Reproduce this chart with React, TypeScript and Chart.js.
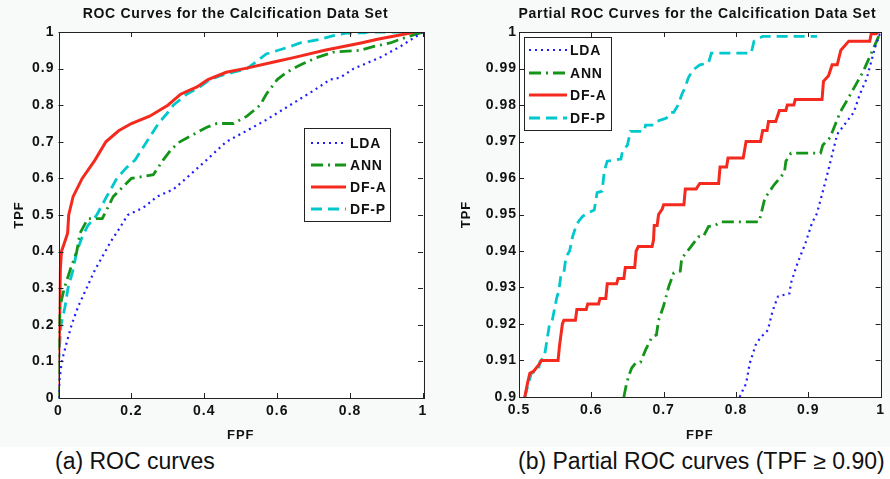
import React, { useEffect, useRef } from 'react';
import { Chart, registerables } from 'chart.js';

Chart.register(...registerables);

type Pt = [number, number];

const FONT = '"Liberation Sans", Arial, Helvetica, sans-serif';

// ---- series meta ----
const seriesNames = ['LDA', 'ANN', 'DF-A', 'DF-P'];
const seriesColors = ['#1e1eff', '#149418', '#f42a1e', '#00c8cc'];

// ---- (a) full ROC curves: [FPF, TPF] ----
const fullLDA: Pt[] = [
  [0, 0], [0.003, 0.05], [0.009, 0.1], [0.022, 0.15], [0.036, 0.2], [0.054, 0.25], [0.077, 0.3],
  [0.1, 0.35], [0.128, 0.4], [0.145, 0.43], [0.165, 0.46], [0.19, 0.5], [0.233, 0.52], [0.27, 0.55],
  [0.315, 0.57], [0.35, 0.6], [0.406, 0.65], [0.46, 0.7], [0.516, 0.73], [0.57, 0.76], [0.635, 0.8],
  [0.7, 0.84], [0.745, 0.87], [0.772, 0.875], [0.81, 0.9], [0.882, 0.93], [0.937, 0.96], [1, 1],
];
const fullANN: Pt[] = [
  [0, 0], [0, 0.15], [0.004, 0.25], [0.016, 0.3], [0.032, 0.35], [0.05, 0.4], [0.059, 0.45],
  [0.075, 0.48], [0.082, 0.49], [0.12, 0.49], [0.15, 0.55], [0.17, 0.57], [0.2, 0.6], [0.26, 0.61],
  [0.287, 0.65], [0.31, 0.68], [0.333, 0.7], [0.37, 0.72], [0.407, 0.74], [0.435, 0.75], [0.48, 0.75],
  [0.517, 0.77], [0.553, 0.8], [0.57, 0.83], [0.6, 0.87], [0.626, 0.89], [0.663, 0.91], [0.708, 0.93],
  [0.754, 0.945], [0.827, 0.95], [0.863, 0.96], [0.91, 0.97], [0.937, 0.98], [1, 1],
];
const fullDFA: Pt[] = [
  [0, 0], [0, 0.1], [0.003, 0.2], [0.005, 0.35], [0.008, 0.4], [0.015, 0.42], [0.025, 0.45],
  [0.028, 0.5], [0.04, 0.55], [0.065, 0.6], [0.1, 0.65], [0.13, 0.7], [0.165, 0.73], [0.2, 0.75],
  [0.25, 0.77], [0.3, 0.8], [0.335, 0.83], [0.38, 0.85], [0.41, 0.87], [0.46, 0.89], [0.51, 0.9],
  [0.6, 0.92], [0.645, 0.93], [0.73, 0.95], [0.83, 0.97], [0.875, 0.98], [0.98, 1], [1, 1],
];
const fullDFP: Pt[] = [
  [0, 0], [0, 0.1], [0.007, 0.2], [0.018, 0.25], [0.026, 0.3], [0.04, 0.35], [0.05, 0.4],
  [0.065, 0.44], [0.08, 0.47], [0.105, 0.5], [0.132, 0.55], [0.16, 0.6], [0.187, 0.63], [0.21, 0.65],
  [0.242, 0.7], [0.274, 0.75], [0.3, 0.78], [0.315, 0.8], [0.352, 0.83], [0.388, 0.85], [0.415, 0.87],
  [0.443, 0.88], [0.48, 0.89], [0.517, 0.9], [0.544, 0.92], [0.57, 0.94], [0.635, 0.96], [0.663, 0.97],
  [0.718, 0.98], [0.754, 0.99], [0.79, 0.997], [0.84, 0.998], [0.85, 1], [1, 1],
];

// ---- (b) partial ROC curves (TPF >= 0.90): [FPF, TPF] ----
const partLDA: Pt[] = [
  [0.805, 0.9], [0.814, 0.9037], [0.819, 0.9092], [0.828, 0.9147], [0.835, 0.9165], [0.844, 0.9183],
  [0.851, 0.9238], [0.858, 0.9275], [0.874, 0.9284], [0.876, 0.9312], [0.885, 0.9366], [0.896, 0.9421],
  [0.905, 0.9476], [0.912, 0.9503], [0.925, 0.96], [0.94, 0.972], [0.963, 0.978], [0.971, 0.9828],
  [0.981, 0.9874], [0.992, 0.9956], [1, 1],
];
const partANN: Pt[] = [
  [0.645, 0.9], [0.648, 0.903], [0.652, 0.906], [0.656, 0.908], [0.661, 0.9092], [0.668, 0.9095],
  [0.675, 0.9129], [0.684, 0.9165], [0.69, 0.917], [0.693, 0.921], [0.7, 0.925], [0.707, 0.9302],
  [0.714, 0.934], [0.723, 0.9345], [0.725, 0.938], [0.737, 0.941], [0.748, 0.9439], [0.755, 0.944],
  [0.762, 0.9467], [0.771, 0.947], [0.78, 0.948], [0.832, 0.948], [0.834, 0.9496], [0.84, 0.9545],
  [0.853, 0.9582], [0.867, 0.9615], [0.869, 0.9646], [0.876, 0.9668], [0.917, 0.9668], [0.92, 0.969],
  [0.93, 0.971], [0.944, 0.978], [0.958, 0.9828], [0.976, 0.9892], [0.99, 0.9955], [1, 1],
];
const partDFA: Pt[] = [
  [0.508, 0.9], [0.512, 0.904], [0.515, 0.9065], [0.52, 0.907], [0.528, 0.909], [0.531, 0.91],
  [0.554, 0.91], [0.556, 0.914], [0.56, 0.92], [0.562, 0.921], [0.578, 0.921], [0.58, 0.924],
  [0.593, 0.924], [0.595, 0.9255], [0.61, 0.9255], [0.612, 0.927], [0.62, 0.927], [0.622, 0.931],
  [0.635, 0.931], [0.637, 0.9325], [0.645, 0.9325], [0.647, 0.9355], [0.66, 0.9355], [0.662, 0.94],
  [0.665, 0.9412], [0.684, 0.9412], [0.686, 0.943], [0.687, 0.947], [0.691, 0.947], [0.693, 0.95],
  [0.698, 0.9515], [0.7, 0.9527], [0.728, 0.9527], [0.73, 0.957], [0.745, 0.957], [0.75, 0.9585],
  [0.776, 0.9585], [0.778, 0.963], [0.787, 0.963], [0.789, 0.9655], [0.81, 0.9655], [0.814, 0.97],
  [0.834, 0.97], [0.837, 0.973], [0.843, 0.973], [0.845, 0.9755], [0.855, 0.9755], [0.86, 0.9785],
  [0.869, 0.9785], [0.871, 0.98], [0.88, 0.98], [0.882, 0.9815], [0.919, 0.9815], [0.921, 0.9865],
  [0.928, 0.988], [0.933, 0.991], [0.94, 0.991], [0.945, 0.995], [0.956, 0.9975], [0.985, 0.9975],
  [0.987, 0.9995], [0.994, 0.9995], [0.996, 1], [1, 1],
];
const partDFP: Pt[] = [
  [0.508, 0.9], [0.512, 0.903], [0.517, 0.9065], [0.527, 0.9075], [0.529, 0.9097], [0.535, 0.911],
  [0.538, 0.9147], [0.542, 0.9197], [0.546, 0.921], [0.552, 0.927], [0.555, 0.929], [0.558, 0.9334],
  [0.562, 0.934], [0.565, 0.9384], [0.57, 0.94], [0.574, 0.9439], [0.58, 0.9475], [0.584, 0.9485],
  [0.588, 0.9495], [0.596, 0.9505], [0.604, 0.9512], [0.608, 0.956], [0.615, 0.9564], [0.618, 0.962],
  [0.622, 0.9646], [0.641, 0.9652], [0.643, 0.9673], [0.65, 0.969], [0.654, 0.9728], [0.673, 0.9728],
  [0.675, 0.9745], [0.686, 0.9745], [0.69, 0.9755], [0.704, 0.9764], [0.71, 0.978], [0.714, 0.978],
  [0.72, 0.98], [0.725, 0.9828], [0.73, 0.985], [0.734, 0.9874], [0.74, 0.9895], [0.75, 0.991],
  [0.762, 0.9915], [0.766, 0.9942], [0.821, 0.9942], [0.825, 0.9975], [0.837, 0.9988], [0.912, 0.9988],
];

// ---- ticks ----
const fullXTicks = [0, 0.2, 0.4, 0.6, 0.8, 1];
const fullYTicks = [0, 0.1, 0.2, 0.3, 0.4, 0.5, 0.6, 0.7, 0.8, 0.9, 1];
const partXTicks = [0.5, 0.6, 0.7, 0.8, 0.9, 1];
const partYTicks = [0.9, 0.91, 0.92, 0.93, 0.94, 0.95, 0.96, 0.97, 0.98, 0.99, 1];

// ---- texts ----
const titleFull = 'ROC Curves for the Calcification Data Set';
const titlePart = 'Partial ROC Curves for the Calcification Data Set';
const xAxisLabel = 'FPF';
const yAxisLabel = 'TPF';
const captionFull = '(a) ROC curves';
const captionPart = '(b) Partial ROC curves (TPF \u2265 0.90)';

const dashes: number[][] = [[2, 4], [12, 5, 2, 5], [], [11, 6]];
const widths = [2.2, 2.8, 3, 2.8];

const fmt = (v: any) => String(+(+v).toFixed(2));

const matlabPlugin = {
  id: 'matlab',
  beforeUpdate(chart: any) {
    chart.ctx.letterSpacing = '1px';
  },
  beforeDraw(chart: any, _a: any, o: any) {
    const { ctx, chartArea: ca, width, height } = chart;
    ctx.letterSpacing = '1px';
    ctx.save();
    ctx.fillStyle = o.figureBg;
    ctx.fillRect(0, 0, width, height);
    ctx.fillStyle = '#ffffff';
    ctx.fillRect(ca.left, ca.top, ca.right - ca.left, ca.bottom - ca.top);
    ctx.restore();
  },
  afterDraw(chart: any, _a: any, o: any) {
    const { ctx, chartArea: ca } = chart;
    const xs = chart.scales.x;
    const ys = chart.scales.y;
    const L = 5;
    ctx.save();
    ctx.strokeStyle = '#222';
    ctx.lineWidth = 1;
    ctx.setLineDash([]);
    ctx.beginPath();
    for (const t of xs.ticks) {
      const px = Math.round(xs.getPixelForValue(t.value)) + 0.5;
      ctx.moveTo(px, ca.bottom);
      ctx.lineTo(px, ca.bottom - L);
      ctx.moveTo(px, ca.top);
      ctx.lineTo(px, ca.top + L);
    }
    for (const t of ys.ticks) {
      const py = Math.round(ys.getPixelForValue(t.value)) + 0.5;
      ctx.moveTo(ca.left, py);
      ctx.lineTo(ca.left + L, py);
      ctx.moveTo(ca.right, py);
      ctx.lineTo(ca.right - L, py);
    }
    ctx.stroke();
    ctx.strokeRect(Math.round(ca.left) + 0.5, Math.round(ca.top) + 0.5,
      Math.round(ca.right - ca.left), Math.round(ca.bottom - ca.top));

    // title
    ctx.font = `bold 14px ${FONT}`;
    ctx.letterSpacing = '0.7px';
    ctx.fillStyle = '#111';
    ctx.textAlign = 'center';
    ctx.textBaseline = 'middle';
    ctx.fillText(o.title, o.titleX, o.titleY);

    // legend
    const b = o.legendBox;
    ctx.fillStyle = '#ffffff';
    ctx.fillRect(b.x, b.y, b.w, b.h);
    ctx.strokeStyle = '#222';
    ctx.lineWidth = 1;
    ctx.strokeRect(b.x + 0.5, b.y + 0.5, b.w, b.h);
    ctx.font = `bold 14px ${FONT}`;
    ctx.letterSpacing = '0.8px';
    ctx.textAlign = 'left';
    chart.data.datasets.forEach((ds: any, i: number) => {
      const y = o.legendRows[i];
      ctx.save();
      ctx.strokeStyle = ds.borderColor;
      ctx.lineWidth = ds.borderWidth;
      ctx.setLineDash(ds.borderDash || []);
      ctx.beginPath();
      ctx.moveTo(o.lineX0, y);
      ctx.lineTo(o.lineX1, y);
      ctx.stroke();
      ctx.restore();
      ctx.fillStyle = '#111';
      ctx.fillText(ds.label, o.textX, y + 1);
    });
    ctx.restore();
  },
};

function buildDatasets(series: Pt[][]) {
  return series.map((pts, i) => ({
    label: seriesNames[i],
    data: pts.map(([x, y]) => ({ x, y })),
    borderColor: seriesColors[i],
    backgroundColor: seriesColors[i],
    borderWidth: widths[i],
    borderDash: dashes[i],
    pointRadius: 0,
    fill: false,
    tension: 0,
    clip: 0,
  }));
}

function makeConfig(p: any): any {
  const tickFont = { size: 14, weight: 'bold', family: FONT };
  return {
    type: 'line',
    data: { datasets: buildDatasets(p.series) },
    plugins: [matlabPlugin],
    options: {
      responsive: false,
      animation: false,
      devicePixelRatio: 1,
      layout: { padding: { left: 0, right: p.padRight, top: 32, bottom: 0 } },
      plugins: {
        legend: { display: false },
        tooltip: { enabled: false },
        title: { display: false },
        matlab: p.matlab,
      },
      scales: {
        x: {
          type: 'linear',
          min: p.xTicks[0],
          max: p.xTicks[p.xTicks.length - 1],
          afterBuildTicks: (s: any) => { s.ticks = p.xTicks.map((v: number) => ({ value: v })); },
          afterFit: (s: any) => { s.height = p.xHeight; },
          ticks: { callback: fmt, font: tickFont, color: '#111', padding: 5, maxRotation: 0, autoSkip: false },
          grid: { display: false, drawTicks: false },
          border: { display: false },
          title: { display: true, text: xAxisLabel, font: { size: 13, weight: 'bold', family: FONT }, color: '#111', padding: { top: 0, bottom: 4 } },
        },
        y: {
          type: 'linear',
          min: p.yTicks[0],
          max: p.yTicks[p.yTicks.length - 1],
          afterBuildTicks: (s: any) => { s.ticks = p.yTicks.map((v: number) => ({ value: v })); },
          afterFit: (s: any) => { s.width = p.yWidth; },
          ticks: { callback: fmt, font: tickFont, color: '#111', padding: p.yPad, autoSkip: false },
          grid: { display: false, drawTicks: false },
          border: { display: false },
          title: { display: true, text: yAxisLabel, font: { size: 13, weight: 'bold', family: FONT }, color: '#111', padding: { top: p.yTitlePad, bottom: 0 } },
        },
      },
    },
  };
}

function ChartCanvas({ cfg, left }: { cfg: any; left: number }) {
  const ref = useRef<HTMLCanvasElement | null>(null);
  useEffect(() => {
    if (!ref.current) return;
    const chart = new Chart(ref.current, makeConfig(cfg));
    return () => chart.destroy();
  }, []);
  return (
    <canvas
      ref={ref}
      width={445}
      height={447}
      style={{ position: 'absolute', left, top: 0, width: 445, height: 447 }}
    />
  );
}

const fullCfg = {
  series: [fullLDA, fullANN, fullDFA, fullDFP],
  xTicks: fullXTicks,
  yTicks: fullYTicks,
  padRight: 22,
  xHeight: 49,
  yWidth: 58.5,
  yPad: 4,
  yTitlePad: 12,
  matlab: {
    figureBg: '#f8fafa',
    title: titleFull,
    titleX: 235.5,
    titleY: 14.5,
    legendBox: { x: 304, y: 128, w: 86, h: 93 },
    legendRows: [143, 165, 187, 209],
    lineX0: 311,
    lineX1: 346,
    textX: 350,
  },
};

const partCfg = {
  series: [partLDA, partANN, partDFA, partDFP],
  xTicks: partXTicks,
  yTicks: partYTicks,
  padRight: 6,
  xHeight: 50,
  yWidth: 74,
  yPad: 2,
  yTitlePad: 14,
  matlab: {
    figureBg: '#f8fafa',
    title: titlePart,
    titleX: 252.5,
    titleY: 14.5,
    legendBox: { x: 79, y: 37, w: 87, h: 93 },
    legendRows: [50, 73, 95, 118],
    lineX0: 84,
    lineX1: 122,
    textX: 125,
  },
};

const captionStyle: React.CSSProperties = {
  position: 'absolute',
  top: 450,
  fontFamily: FONT,
  fontSize: 23,
  lineHeight: '23px',
  color: '#111',
  whiteSpace: 'nowrap',
};

export default function App() {
  return (
    <div style={{ position: 'absolute', left: 0, top: 0, width: 890, height: 479, background: '#ffffff', overflow: 'hidden' }}>
      <ChartCanvas cfg={fullCfg} left={0} />
      <ChartCanvas cfg={partCfg} left={445} />
      <div style={{ ...captionStyle, left: 55 }}>{captionFull}</div>
      <div style={{ ...captionStyle, left: 518 }}>{captionPart}</div>
    </div>
  );
}
